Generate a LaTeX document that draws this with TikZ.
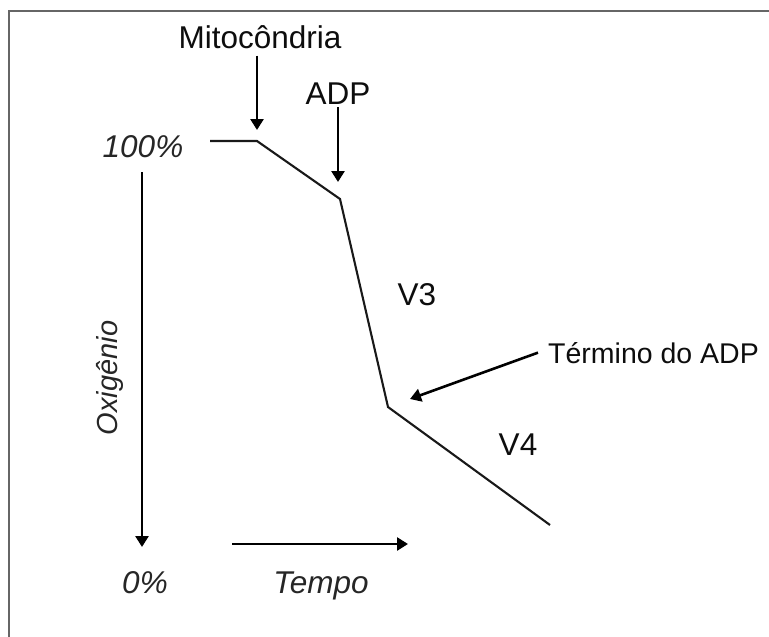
\documentclass[tikz,border=0pt]{standalone}
\usepackage{fontspec}
\setmainfont{Liberation Sans}
\usetikzlibrary{arrows.meta}

\tikzset{
  lbl/.style={inner sep=0pt, anchor=base, text=black!95, font=\fontsize{31.5}{36}\selectfont},
  ilbl/.style={lbl, text=black!85, font=\fontsize{31.5}{36}\selectfont\itshape},
  arr/.style={line width=2.6pt, -{Triangle[length=11pt,width=13pt]}},
}

\begin{document}
\begin{tikzpicture}[x=1pt,y=-1pt]
\useasboundingbox (0,0) rectangle (769,637);
\draw[black!60, line width=1.5pt] (9,637) -- (9,11) -- (769,11);
% labels
\node[lbl] (mit) at (260,48) {Mitocôndria};
\node[lbl] (adp) at (338,104) {ADP};
\node[ilbl] (p100) at (143,157) {100\%};
\node[lbl] (v3) at (417,305) {V3};
\node[lbl, anchor=base west, font=\fontsize{28.5}{34}\selectfont] (ter) at (548,363) {Término do ADP};
\node[lbl] (v4) at (518,455) {V4};
\node[ilbl, rotate=90, font=\fontsize{29}{34}\selectfont\itshape] (oxi) at (117,378) {Oxigênio};
\node[ilbl] (p0) at (145,593) {0\%};
\node[ilbl] (tmp) at (321,593) {Tempo};
% curve
\coordinate (c1) at (210,141);
\coordinate (c2) at (257,141);
\coordinate (c3) at (340,199);
\coordinate (c4) at (388,407);
\coordinate (c5) at (550,525);
\draw[line width=2.1pt, black!90] (c1) -- (c2) -- (c3) -- (c4) -- (c5);
% arrows
\coordinate (mtip) at (257,130);
\coordinate (atip) at (338,182);
\coordinate (ttip) at (410,399);
\draw[arr] ([yshift=-7pt]mit.south -| mtip) -- (mtip);
\draw[arr] ([yshift=-3pt]adp.south) -- (atip);
\draw[arr] ([xshift=-10pt]ter.west) -- (ttip);
\coordinate (oxtop) at (142,172);
\coordinate (oxbot) at (142,547);
\draw[arr] (oxtop) -- (oxbot);
\coordinate (tleft) at (232,544);
\coordinate (tright) at (408,544);
\draw[arr] (tleft) -- (tright);
\end{tikzpicture}
\end{document}
